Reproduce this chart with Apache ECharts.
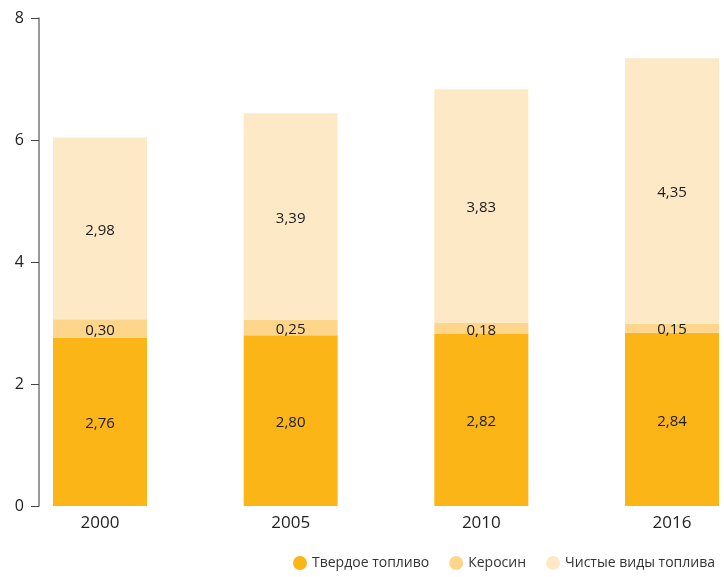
<!DOCTYPE html>
<html><head><meta charset="utf-8">
<script src="https://cdn.jsdelivr.net/npm/echarts@6/dist/echarts.min.js"></script>
<style>html,body{margin:0;padding:0;background:#fff}#c{width:724px;height:577px}</style>
</head><body><div id="c"></div>
<script>
const categories = ['2000', '2005', '2010', '2016'];
const solidFuel = [2.76, 2.80, 2.82, 2.84];
const kerosene = [0.30, 0.25, 0.18, 0.15];
const cleanFuel = [2.98, 3.39, 3.83, 4.35];
const seriesNames = ['Твердое топливо', 'Керосин', 'Чистые виды топлива'];
const colors = ['#FBB516', '#FDD68C', '#FEE9C7'];

const fmt = p => p.value.toFixed(2).replace('.', ',');
const mk = (name, data, color) => ({
  name, type: 'bar', stack: 'total', data, barWidth: 94,
  itemStyle: { color },
  label: { show: true, position: 'inside', formatter: fmt, color: '#1a1a1a', fontSize: 15, fontFamily: 'Open Sans', offset: [0, 2] }
});
const chart = echarts.init(document.getElementById('c'));
chart.setOption({
  animation: false,
  textStyle: { fontFamily: 'Open Sans' },
  grid: { left: 100, right: 52, top: 18, bottom: 71, containLabel: false },
  xAxis: {
    type: 'category', data: categories, boundaryGap: false,
    axisLine: { show: false }, axisTick: { show: false },
    axisLabel: { color: '#222', fontSize: 17, margin: 9 }
  },
  yAxis: {
    type: 'value', min: 0, max: 8, interval: 2, offset: 61,
    axisLine: { show: true, lineStyle: { color: '#777', width: 1.5 } },
    axisTick: { show: true, length: 8, lineStyle: { color: '#444' } },
    splitLine: { show: false },
    axisLabel: { color: '#222', fontSize: 16, margin: 15 }
  },
  legend: {
    right: 4, bottom: 2, icon: 'circle', itemWidth: 14, itemHeight: 14, itemGap: 20,
    textStyle: { color: '#333', fontSize: 14 },
    data: seriesNames
  },
  series: [
    mk(seriesNames[0], solidFuel, colors[0]),
    mk(seriesNames[1], kerosene, colors[1]),
    mk(seriesNames[2], cleanFuel, colors[2])
  ]
});
</script></body></html>
